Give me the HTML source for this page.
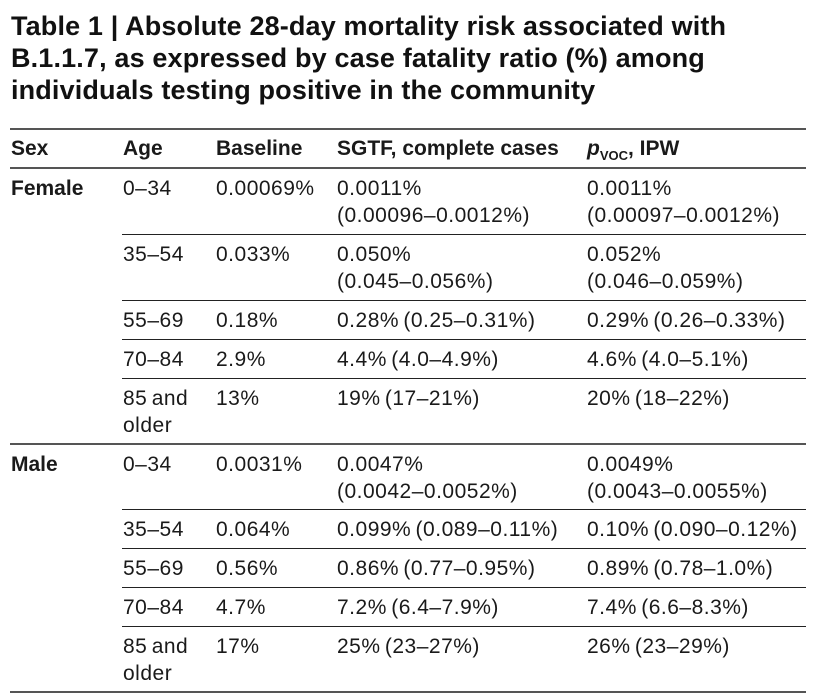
<!DOCTYPE html>
<html><head><meta charset="utf-8"><style>
body{margin:0;width:827px;height:697px;background:#fff;position:relative;overflow:hidden;font-family:"Liberation Sans",sans-serif;color:#1a1a1a}
.t{position:absolute;left:11px;font-weight:bold;font-size:27px;line-height:32px;white-space:nowrap;letter-spacing:0.15px;color:#111}
.l{position:absolute;height:1.5px;background:#555;right:21px}
.c{position:absolute;font-size:21px;line-height:27px;white-space:nowrap;letter-spacing:0.5px;word-spacing:-2px}
.b{font-weight:bold;letter-spacing:0;word-spacing:0}
</style></head><body>
<div class="t" style="top:10px">Table 1 | Absolute 28-day mortality risk associated with</div>
<div class="t" style="top:42px">B.1.1.7, as expressed by case fatality ratio (%) among</div>
<div class="t" style="top:74px">individuals testing positive in the community</div>

<div class="l" style="top:128px;left:10px;height:2px"></div>
<div class="l" style="top:167px;left:10px"></div>
<div class="l" style="top:234px;left:122px;background:#222;height:1px"></div>
<div class="l" style="top:300px;left:122px;background:#222;height:1px"></div>
<div class="l" style="top:339px;left:122px;background:#222;height:1px"></div>
<div class="l" style="top:378px;left:122px;background:#222;height:1px"></div>
<div class="l" style="top:443px;left:10px"></div>
<div class="l" style="top:509px;left:122px;background:#222;height:1px"></div>
<div class="l" style="top:548px;left:122px;background:#222;height:1px"></div>
<div class="l" style="top:587px;left:122px;background:#222;height:1px"></div>
<div class="l" style="top:626px;left:122px;background:#222;height:1px"></div>
<div class="l" style="top:691px;left:10px;height:2px"></div>

<div class="c b" style="top:135px;left:11px">Sex</div>
<div class="c b" style="top:135px;left:123px">Age</div>
<div class="c b" style="top:135px;left:216px">Baseline</div>
<div class="c b" style="top:135px;left:337px">SGTF, complete cases</div>
<div class="c b" style="top:135px;left:587px"><i>p</i><sub style="font-size:13px">VOC</sub>, IPW</div>

<div class="c b" style="top:175px;left:11px">Female</div>
<div class="c" style="top:175px;left:123px">0–34</div>
<div class="c" style="top:175px;left:216px">0.00069%</div>
<div class="c" style="top:175px;left:337px">0.0011%<br>(0.00096–0.0012%)</div>
<div class="c" style="top:175px;left:587px">0.0011%<br>(0.00097–0.0012%)</div>

<div class="c" style="top:241px;left:123px">35–54</div>
<div class="c" style="top:241px;left:216px">0.033%</div>
<div class="c" style="top:241px;left:337px">0.050%<br>(0.045–0.056%)</div>
<div class="c" style="top:241px;left:587px">0.052%<br>(0.046–0.059%)</div>

<div class="c" style="top:307px;left:123px">55–69</div>
<div class="c" style="top:307px;left:216px">0.18%</div>
<div class="c" style="top:307px;left:337px">0.28% (0.25–0.31%)</div>
<div class="c" style="top:307px;left:587px">0.29% (0.26–0.33%)</div>

<div class="c" style="top:346px;left:123px">70–84</div>
<div class="c" style="top:346px;left:216px">2.9%</div>
<div class="c" style="top:346px;left:337px">4.4% (4.0–4.9%)</div>
<div class="c" style="top:346px;left:587px">4.6% (4.0–5.1%)</div>

<div class="c" style="top:385px;left:123px">85 and<br>older</div>
<div class="c" style="top:385px;left:216px">13%</div>
<div class="c" style="top:385px;left:337px">19% (17–21%)</div>
<div class="c" style="top:385px;left:587px">20% (18–22%)</div>

<div class="c b" style="top:451px;left:11px">Male</div>
<div class="c" style="top:451px;left:123px">0–34</div>
<div class="c" style="top:451px;left:216px">0.0031%</div>
<div class="c" style="top:451px;left:337px">0.0047%<br>(0.0042–0.0052%)</div>
<div class="c" style="top:451px;left:587px">0.0049%<br>(0.0043–0.0055%)</div>

<div class="c" style="top:516px;left:123px">35–54</div>
<div class="c" style="top:516px;left:216px">0.064%</div>
<div class="c" style="top:516px;left:337px">0.099% (0.089–0.11%)</div>
<div class="c" style="top:516px;left:587px">0.10% (0.090–0.12%)</div>

<div class="c" style="top:555px;left:123px">55–69</div>
<div class="c" style="top:555px;left:216px">0.56%</div>
<div class="c" style="top:555px;left:337px">0.86% (0.77–0.95%)</div>
<div class="c" style="top:555px;left:587px">0.89% (0.78–1.0%)</div>

<div class="c" style="top:594px;left:123px">70–84</div>
<div class="c" style="top:594px;left:216px">4.7%</div>
<div class="c" style="top:594px;left:337px">7.2% (6.4–7.9%)</div>
<div class="c" style="top:594px;left:587px">7.4% (6.6–8.3%)</div>

<div class="c" style="top:633px;left:123px">85 and<br>older</div>
<div class="c" style="top:633px;left:216px">17%</div>
<div class="c" style="top:633px;left:337px">25% (23–27%)</div>
<div class="c" style="top:633px;left:587px">26% (23–29%)</div>
</body></html>
